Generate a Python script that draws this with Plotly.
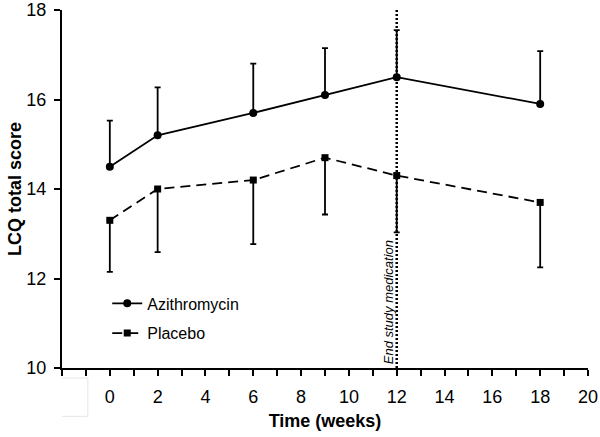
import plotly.graph_objects as go

weeks = [0, 2, 6, 9, 12, 18]
azi_mean = [14.5, 15.2, 15.7, 16.1, 16.5, 15.9]
azi_err_up = [1.03, 1.07, 1.1, 1.05, 1.05, 1.18]
pla_mean = [13.3, 14.0, 14.2, 14.7, 14.3, 13.7]
pla_err_down = [1.15, 1.41, 1.43, 1.27, 1.27, 1.45]
zeros = [0] * len(weeks)

x_tickvals = list(range(-2, 21))
x_ticktext = [str(v) if (v >= 0 and v % 2 == 0) else "" for v in x_tickvals]
y_tickvals = [10, 12, 14, 16, 18]
end_week = 12
end_label = "End study medication"

fig = go.Figure()
fig.add_trace(go.Scatter(
    x=weeks, y=azi_mean, mode="lines+markers", name="Azithromycin",
    legendgroup="a",
    line=dict(color="black", width=1.8),
    marker=dict(symbol="circle", size=8, color="black"),
    error_y=dict(type="data", symmetric=False, array=azi_err_up, arrayminus=zeros,
                 color="black", thickness=1.8, width=3),
))
fig.add_trace(go.Scatter(
    x=weeks, y=pla_mean, mode="lines+markers", name="Placebo",
    legendgroup="b",
    line=dict(color="black", width=1.8, dash="10px,6px"),
    marker=dict(symbol="square", size=7, color="black"),
    error_y=dict(type="data", symmetric=False, array=zeros, arrayminus=pla_err_down,
                 color="black", thickness=1.8, width=3),
))

fig.add_shape(type="line", x0=end_week, x1=end_week, y0=10, y1=18, xref="x", yref="y",
              line=dict(color="black", width=2.5, dash="2px,2px"))
fig.add_annotation(x=end_week, y=10, xref="x", yref="y", text=end_label,
                   textangle=-90, showarrow=False, xanchor="right", yanchor="bottom",
                   xshift=1, yshift=2,
                   font=dict(family="Liberation Sans", size=13, color="black", style="italic"))
# faint empty box below the axis
fig.add_shape(type="rect", x0=-2.58, x1=-0.92, y0=-0.135, y1=-0.028, xref="x", yref="paper",
              line=dict(color="#e6e6e6", width=1), fillcolor="rgba(0,0,0,0)")

fig.update_layout(
    width=600, height=437,
    margin=dict(l=62, r=12, t=10, b=69),
    paper_bgcolor="white", plot_bgcolor="white",
    font=dict(family="Liberation Sans, Arial, sans-serif", color="black"),
    showlegend=True,
    legend=dict(x=0.086, y=0.228, xanchor="left", yanchor="top",
                bgcolor="rgba(0,0,0,0)", font=dict(size=16),
                traceorder="grouped", tracegroupgap=6),
    xaxis=dict(range=[-2, 20], tickvals=x_tickvals, ticktext=x_ticktext, automargin=False,
               ticks="outside", ticklen=6, tickwidth=1.5, tickcolor="black",
               showline=True, linecolor="black", linewidth=2, showgrid=False,
               zeroline=False, tickfont=dict(size=18), ticklabelstandoff=5,
               title=dict(text="<b>Time (weeks)</b>", font=dict(size=18), standoff=9)),
    yaxis=dict(range=[10, 18], tickvals=y_tickvals, automargin=False,
               ticks="outside", ticklen=6, tickwidth=1.5, tickcolor="black",
               showline=True, linecolor="black", linewidth=2, showgrid=False,
               zeroline=False, tickfont=dict(size=18), ticklabelstandoff=4,
               title=dict(text="<b>LCQ total score</b>", font=dict(size=18), standoff=0)),
)

fig.write_html("out.html", config={"displayModeBar": False},
               post_script="document.body.style.margin='0px';")
